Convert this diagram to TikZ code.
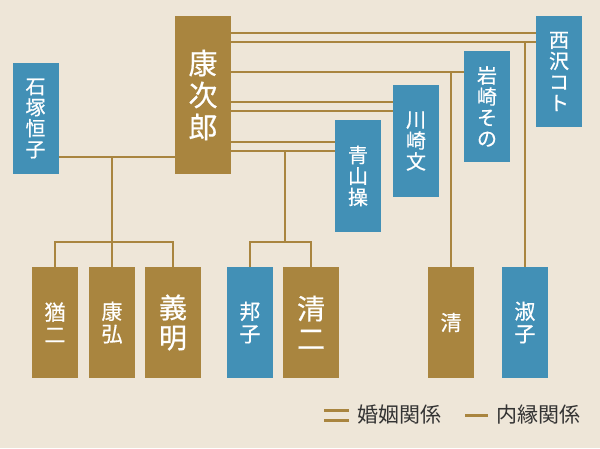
\documentclass[tikz,border=0pt]{standalone}
\usepackage{fontspec}
\newfontfamily\jp[FakeBold=0.6]{Noto Sans CJK JP}
\newfontfamily\jplight{Noto Sans CJK JP}
\definecolor{bg}{HTML}{EEE6D8}
\definecolor{gold}{HTML}{A9853F}
\definecolor{sea}{HTML}{4290B6}
\definecolor{ink}{HTML}{333333}
\tikzset{
  person/.style={inner sep=0pt, text=white, align=center, minimum width=46pt, minimum height=111pt, font=\jp\fontsize{20}{21}\selectfont},
  man/.style={person, fill=gold},
  woman/.style={person, fill=sea},
  big/.style={minimum width=56pt, font=\jp\fontsize{29}{32}\selectfont},
  kid/.style={font=\jp\fontsize{21}{22.5}\selectfont},
  bigkid/.style={minimum width=56pt, font=\jp\fontsize{28}{30}\selectfont},
  kin/.style={draw=gold, line width=2.5pt},
  marriage/.style={draw=gold, line width=2.5pt, double=bg, double distance=6.3pt},
  legend/.style={inner sep=0pt, text=ink, font=\jplight\fontsize{21}{21}\selectfont}
}
\begin{document}
\begin{tikzpicture}[x=1pt,y=-1pt]

\fill[bg] (0,0) rectangle (600,448);
\useasboundingbox (0,0) rectangle (600,448);

% Father
\node[man, big, minimum height=158pt] (kojiro) at (203,95) {康\\次\\郎};

% Partners
\node[woman] (tsuneko) at (35.5,118.5) {石\\塚\\恒\\子};
\node[woman] (koto) at (559,71.5) {西\\沢\\コ\\ト};
\node[woman] (sono) at (487,106.5) {岩\\崎\\そ\\の};
\node[woman, minimum height=112pt] (fumi) at (416,141) {川\\崎\\文};
\node[woman, minimum height=112pt] (misao) at (358,176) {青\\山\\操};

% Children
\node[man, kid] (yuji) at (55,322.5) {猶\\二};
\node[man, kid] (yasuhiro) at (112,322.5) {康\\弘};
\node[man, bigkid] (yoshiaki) at (173,322.5) {義\\明};
\node[woman, kid] (kuniko) at (250,322.5) {邦\\子};
\node[man, bigkid] (seiji) at (311,322.5) {清\\二};
\node[man, kid] (kiyoshi) at (451,322.5) {清};
\node[woman, kid] (toshiko) at (525,322.5) {淑\\子};

% Rows of the lines
\coordinate (row1) at (0,37.5);
\coordinate (row1low) at (0,42);
\coordinate (row2) at (0,72);
\coordinate (row3) at (0,106.5);
\coordinate (row4) at (0,146.5);
\coordinate (row4low) at (0,151);
\coordinate (row5) at (0,157);
\coordinate (bar) at (0,242);
\coordinate (drop4) at (285,0);

% Marriages and others
\draw[marriage] (kojiro.east |- row1) -- (koto.west |- row1);
\draw[kin] (kojiro.east |- row2) -- (sono.west |- row2);
\draw[marriage] (kojiro.east |- row3) -- (fumi.west |- row3);
\draw[marriage] (kojiro.east |- row4) -- (misao.west |- row4);
\draw[kin] (tsuneko.east |- row5) -- (kojiro.west |- row5);

% Children lines
\draw[kin] (toshiko.north) -- (toshiko.north |- row1low);
\draw[kin] (kiyoshi.north) -- (kiyoshi.north |- row2);
\draw[kin] (yasuhiro.north) -- (yasuhiro.north |- row5);
\draw[kin] (yuji.north) |- (yoshiaki.north |- bar) -- (yoshiaki.north);
\draw[kin] (drop4 |- bar) -- (drop4 |- row4low);
\draw[kin] (kuniko.north) |- (seiji.north |- bar) -- (seiji.north);

% Legend
\draw[gold, line width=3pt] (324,410) -- (349,410) (324,420) -- (349,420);
\node[legend, anchor=west] (legmarr) at (357,415) {婚姻関係};
\draw[gold, line width=3pt] (465,415) -- (488,415);
\node[legend, anchor=west] (legkin) at (496,415) {内縁関係};

\end{tikzpicture}
\end{document}
